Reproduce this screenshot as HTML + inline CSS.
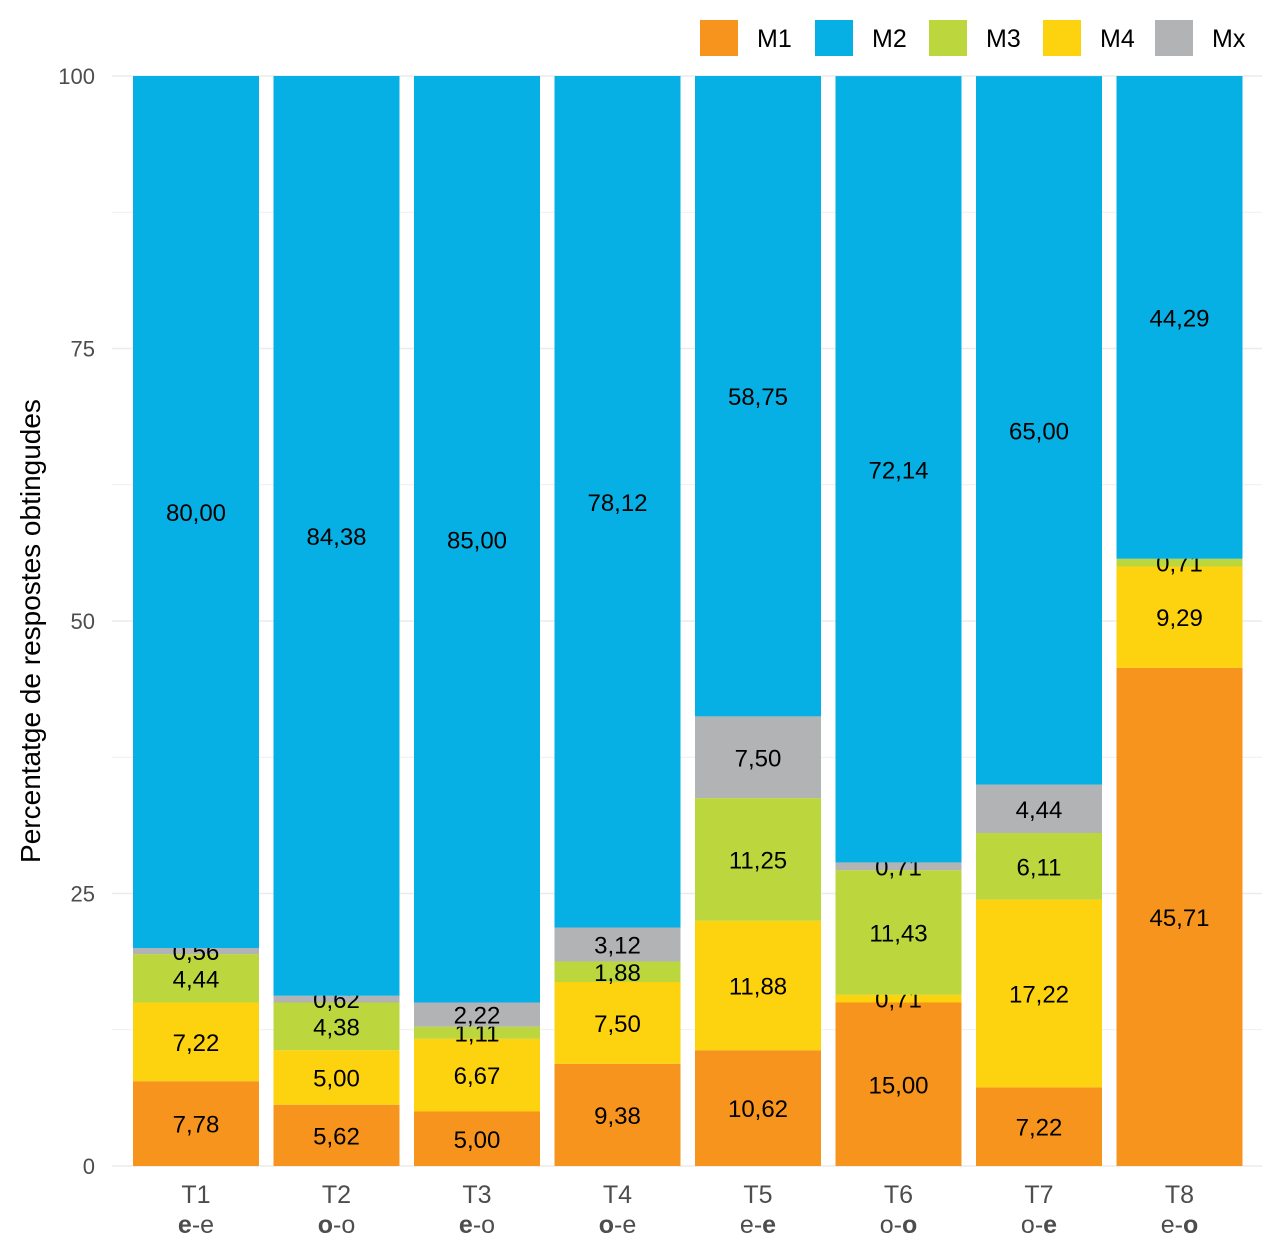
<!DOCTYPE html>
<html><head><meta charset="utf-8"><style>
html,body{margin:0;padding:0;background:#fff;}
svg{display:block;font-family:"Liberation Sans",Arial,sans-serif;}
</style></head><body>
<svg id="chart" width="1275" height="1252" xmlns="http://www.w3.org/2000/svg"></svg>
<script>
const categories = ["T1","T2","T3","T4","T5","T6","T7","T8"];
const subA = ["e","o","e","o","e","o","o","e"];
const subB = ["e","o","o","e","e","o","e","o"];
const boldFirst = [true,true,true,true,false,false,false,false];
const seriesNames = ["M1","M4","M3","Mx","M2"];
const m1 = [7.78,5.62,5.00,9.38,10.62,15.00,7.22,45.71];
const m4 = [7.22,5.00,6.67,7.50,11.88,0.71,17.22,9.29];
const m3 = [4.44,4.38,1.11,1.88,11.25,11.43,6.11,0.71];
const mx = [0.56,0.62,2.22,3.12,7.50,0.71,4.44,0];
const m2 = [80.00,84.38,85.00,78.12,58.75,72.14,65.00,44.29];
const yTicks = [0,25,50,75,100];
const legendNames = ["M1","M2","M3","M4","Mx"];

const colors = {M1:"#F7941D",M2:"#06B0E5",M3:"#BCD63E",M4:"#FDD20E",Mx:"#B1B3B5"};
const series = {M1:m1,M4:m4,M3:m3,Mx:mx,M2:m2};
const NS="http://www.w3.org/2000/svg";
const svg=document.getElementById("chart");
const plotTop=76,plotBottom=1166,plotLeft=112,plotRight=1262;
const yScale=v=>plotBottom-(v/100)*(plotBottom-plotTop);
const step=140.5,bw=126,x0=133;
const xScale=i=>x0+i*step;
function mk(t,attrs,parent){const e=document.createElementNS(NS,t);for(const k in attrs)e.setAttribute(k,attrs[k]);(parent||svg).appendChild(e);return e;}

for(let v=0;v<=100;v+=12.5){
  const g=mk("line",{x1:plotLeft,x2:plotRight,y1:yScale(v),y2:yScale(v),stroke:"#EBEBEB","stroke-width":v%25===0?1.6:0.8});
  
  
}
yTicks.forEach(v=>{
  const t=mk("text",{x:95,y:yScale(v)+8,"text-anchor":"end","font-size":22,fill:"#4D4D4D"});
  t.textContent=v;
  
  
});
const yt=mk("text",{x:0,y:0,transform:"translate(40,631) rotate(-90)","text-anchor":"middle","font-size":28,fill:"#000"});
yt.textContent="Percentatge de respostes obtingudes";



categories.forEach((c,i)=>{
  let base=0;
  seriesNames.forEach(s=>{
    const v=series[s][i];
    if(v<=0)return;
    const r=mk("rect",{x:xScale(i),y:yScale(base+v),width:bw,height:yScale(base)-yScale(base+v),fill:colors[s]});
    
    
    const lab=mk("text",{x:xScale(i)+bw/2,y:(yScale(base)+yScale(base+v))/2+9,"text-anchor":"middle","font-size":24,fill:"#000"});
    lab.textContent=v.toFixed(2).replace(".",",");
    
    
    base+=v;
  });
  const t1=mk("text",{x:xScale(i)+bw/2,y:1203,"text-anchor":"middle","font-size":25,fill:"#4D4D4D"});
  t1.textContent=c;
  
  
  const t2=mk("text",{x:xScale(i)+bw/2,y:1233,"text-anchor":"middle","font-size":25,fill:"#4D4D4D"});
  
  
  const a=mk("tspan",{"font-weight":boldFirst[i]?"bold":"normal"},t2);a.textContent=subA[i];
  const d=mk("tspan",{},t2);d.textContent="-";
  const b=mk("tspan",{"font-weight":boldFirst[i]?"normal":"bold"},t2);b.textContent=subB[i];
});

const lx=[700,815,929,1043,1155];
legendNames.forEach((n,k)=>{
  const g=mk("g",{});
  
  
  mk("rect",{x:lx[k],y:20,width:38,height:36,fill:colors[n]},g);
  const t=mk("text",{x:lx[k]+57,y:47,"font-size":25,fill:"#000"},g);
  t.textContent=n;
});
</script>
</body></html>
